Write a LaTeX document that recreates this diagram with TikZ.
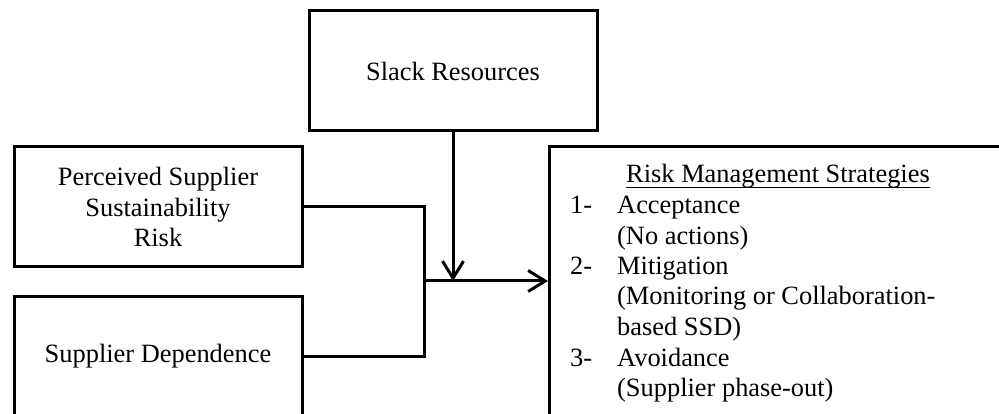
\documentclass[tikz,border=0pt]{standalone}
\usepackage{fontspec}
\setmainfont{Liberation Serif}
\usetikzlibrary{arrows.meta}
\newcommand\myfs{\fontsize{26.4pt}{30.5pt}\selectfont}
\begin{document}
\begin{tikzpicture}[x=1pt,y=-1pt,
  box/.style={draw, line width=3pt, inner sep=0pt, font=\myfs, align=center},
  txt/.style={font=\myfs, inner sep=0pt, anchor=base west},
  conn/.style={line width=3pt},
  tip/.style={-{Straight Barb[length=17pt,width=21pt,line width=3pt]}}]
\useasboundingbox (0,0) rectangle (999,414);
\clip (0,0) rectangle (999,414);
\node[box, minimum width=288pt, minimum height=120pt] (slack) at (453,71) {Slack Resources};
\node[box, minimum width=288pt, minimum height=120pt] (perc) at (158,207) {Perceived Supplier\\Sustainability\\Risk};
\node[box, minimum width=288pt, minimum height=120pt] (dep) at (158,356) {Supplier Dependence};
\node[box, minimum width=480pt, minimum height=300pt, anchor=north west] (rms) at (548,145) {};
\node[font=\myfs, inner sep=0pt, anchor=base] (title) at (778,183) {Risk Management Strategies};
\draw[line width=1.8pt] ([yshift=-4.5pt]title.base west) -- ([yshift=-4.5pt]title.base east);
\node[txt] (n1) at (570,213.5) {1-};
\node[txt] (t1) at (617,213.5) {Acceptance};
\node[txt] (t1b) at (617,244) {(No actions)};
\node[txt] (n2) at (570,274.5) {2-};
\node[txt] (t2) at (617,274.5) {Mitigation};
\node[txt] (t2b) at (617,305) {(Monitoring or Collaboration-};
\node[txt] (t2c) at (617,335.5) {based SSD)};
\node[txt] (n3) at (570,366) {3-};
\node[txt] (t3) at (617,366) {Avoidance};
\node[txt] (t3b) at (617,396.5) {(Supplier phase-out)};
\coordinate (j) at (424,281);
\draw[conn] (perc.east) -| (j);
\draw[conn] (dep.east) -| (j);
\draw[conn, tip] (j) -- (j -| rms.west);
\draw[conn, tip] (slack.south) -- (slack.south |- j);
\end{tikzpicture}
\end{document}
